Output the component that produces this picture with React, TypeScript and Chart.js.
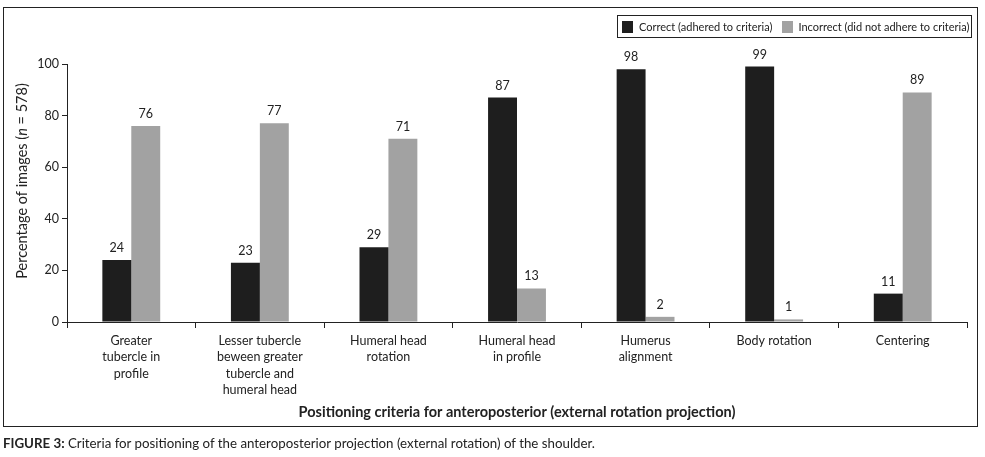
import React, { useEffect, useRef } from "react";
import { Chart, registerables } from "chart.js";

Chart.register(...registerables);

const categories: string[][] = [
  ["Greater", "tubercle in", "profile"],
  ["Lesser tubercle", "beween greater", "tubercle and", "humeral head"],
  ["Humeral head", "rotation"],
  ["Humeral head", "in profile"],
  ["Humerus", "alignment"],
  ["Body rotation"],
  ["Centering"],
];
const correctValues = [24, 23, 29, 87, 98, 99, 11];
const incorrectValues = [76, 77, 71, 13, 2, 1, 89];
const yTicks = [0, 20, 40, 60, 80, 100];
const seriesNames = ["Correct (adhered to criteria)", "Incorrect (did not adhere to criteria)"];
const seriesColors = ["#1e1e1e", "#a2a2a2"];

const FONT = "Lato, 'Open Sans', sans-serif";

const valueLabelPlugin = {
  id: "valueLabels",
  afterDatasetsDraw(chart: any) {
    const ctx = chart.ctx;
    ctx.save();
    ctx.font = `12.5px ${FONT}`;
    ctx.fillStyle = "#222";
    ctx.textAlign = "center";
    ctx.textBaseline = "middle";
    chart.data.datasets.forEach((ds: any, i: number) => {
      const meta = chart.getDatasetMeta(i);
      meta.data.forEach((bar: any, j: number) => {
        ctx.fillText(String(ds.data[j]), bar.x, bar.y - 12);
      });
    });
    ctx.restore();
  },
};

const yTitlePlugin = {
  id: "yTitle",
  afterDraw(chart: any) {
    const ctx = chart.ctx;
    const parts = [
      { t: "Percentage of images (", f: `14.5px ${FONT}` },
      { t: "n", f: `italic 14.5px ${FONT}` },
      { t: " = 578)", f: `14.5px ${FONT}` },
    ];
    ctx.save();
    let total = 0;
    parts.forEach((p) => {
      ctx.font = p.f;
      total += ctx.measureText(p.t).width;
    });
    ctx.translate(22, 181);
    ctx.rotate(-Math.PI / 2);
    ctx.fillStyle = "#222";
    ctx.textBaseline = "middle";
    ctx.textAlign = "left";
    let x = -total / 2;
    parts.forEach((p) => {
      ctx.font = p.f;
      ctx.fillText(p.t, x, 0);
      x += ctx.measureText(p.t).width;
    });
    ctx.restore();
  },
};

export default function App() {
  const ref = useRef<HTMLCanvasElement>(null);
  useEffect(() => {
    if (!ref.current) return;
    const chart = new Chart(ref.current, {
      type: "bar",
      data: {
        labels: categories as any,
        datasets: [
          {
            label: seriesNames[0],
            data: correctValues,
            backgroundColor: seriesColors[0],
            categoryPercentage: 0.45,
            barPercentage: 1.0,
          },
          {
            label: seriesNames[1],
            data: incorrectValues,
            backgroundColor: seriesColors[1],
            categoryPercentage: 0.45,
            barPercentage: 1.0,
          },
        ],
      },
      options: {
        animation: false,
        responsive: false,
        maintainAspectRatio: false,
        devicePixelRatio: 1,
        layout: { padding: { left: 0, top: 64, right: 18, bottom: 30 } },
        plugins: { legend: { display: false }, tooltip: { enabled: false } },
        scales: {
          y: {
            min: 0,
            max: 100,
            afterBuildTicks: (s: any) => {
              s.ticks = yTicks.map((v) => ({ value: v }));
            },
            afterFit: (s: any) => {
              s.width = 67;
            },
            ticks: { color: "#222", font: { family: FONT, size: 12.5 }, padding: 3 },
            grid: { drawOnChartArea: false, tickLength: 5, color: "#222" },
            border: { color: "#222", width: 1 },
          },
          x: {
            afterFit: (s: any) => {
              s.height = 105;
            },
            ticks: {
              color: "#222",
              font: { family: FONT, size: 12.5, lineHeight: 1.3 },
              maxRotation: 0,
              autoSkip: false,
              padding: 5,
            },
            grid: { offset: true, drawOnChartArea: false, tickLength: 6, color: "#222" },
            border: { color: "#222", width: 1 },
            title: {
              display: true,
              text: "Positioning criteria for anteroposterior (external rotation projection)",
              color: "#222",
              font: { family: FONT, size: 14.5, weight: "bold" },
              padding: { top: 0, bottom: 6 },
            },
          },
        },
      },
      plugins: [valueLabelPlugin, yTitlePlugin],
    });
    return () => chart.destroy();
  }, []);

  return (
    <div style={{ position: "absolute", left: 0, top: 0, width: 985, height: 457, background: "#fff", fontFamily: FONT, color: "#222" }}>
      <div style={{ position: "absolute", left: 3, top: 7, width: 973, height: 418, border: "1.5px solid #222" }} />
      <canvas ref={ref} width={985} height={457} style={{ position: "absolute", left: 0, top: 0, width: 985, height: 457 }} />
      <div
        style={{
          position: "absolute",
          left: 617,
          top: 15,
          width: 353,
          height: 21,
          border: "1.5px solid #222",
          display: "flex",
          alignItems: "center",
          fontSize: 11,
          whiteSpace: "nowrap",
        }}
      >
        <span style={{ display: "inline-block", width: 11, height: 12, background: seriesColors[0], marginLeft: 4, marginRight: 6 }} />
        <span>{seriesNames[0]}</span>
        <span style={{ display: "inline-block", width: 11, height: 12, background: seriesColors[1], marginLeft: 10, marginRight: 5 }} />
        <span>{seriesNames[1]}</span>
      </div>
      <div style={{ position: "absolute", left: 3, top: 435, fontSize: 13.3, whiteSpace: "nowrap" }}>
        <b>FIGURE 3:</b> Criteria for positioning of the anteroposterior projection (external rotation) of the shoulder.
      </div>
    </div>
  );
}
